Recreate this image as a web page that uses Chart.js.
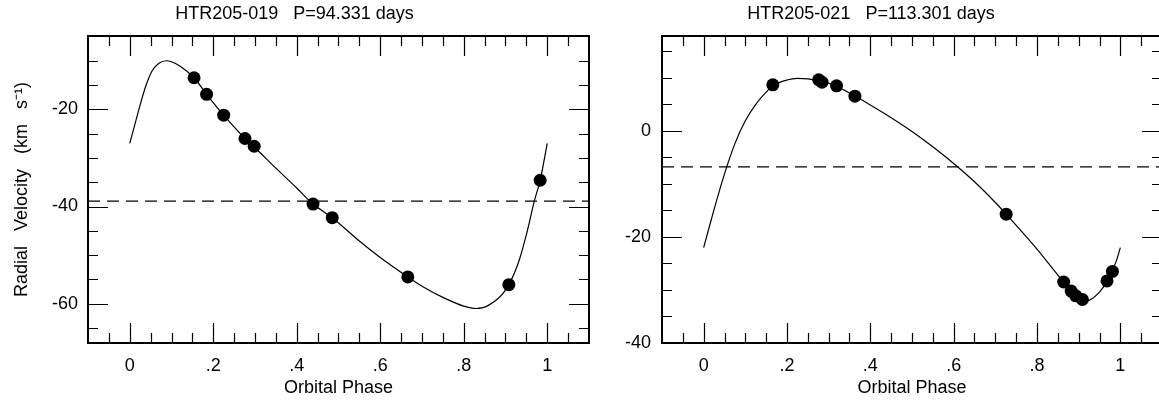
<!DOCTYPE html>
<html>
<head>
<meta charset="utf-8">
<script src="https://cdn.jsdelivr.net/npm/chart.js@4.4.1/dist/chart.umd.min.js"></script>
<style>
  html, body { margin: 0; padding: 0; background: #fff; overflow: hidden; }
  body { width: 1159px; height: 403px; position: relative; }
  .panel { position: absolute; top: 0; height: 403px; }
  #leftPanel { left: 0; width: 677px; }
  #rightPanel { left: 580px; width: 664px; }
</style>
</head>
<body>
<div class="panel" id="leftPanel"><canvas id="leftChart"></canvas></div>
<div class="panel" id="rightPanel"><canvas id="rightChart"></canvas></div>
<script>
// shared phase axis
const xMajorTicks = [0, 0.2, 0.4, 0.6, 0.8, 1];
const xTickLabels = ['0', '.2', '.4', '.6', '.8', '1'];

// HTR205-019
const leftTitle = 'HTR205-019   P=94.331 days';
const leftPhase = [0.154, 0.184, 0.225, 0.276, 0.298, 0.439, 0.485, 0.666, 0.908, 0.983];
const leftVel = [-13.5, -16.9, -21.2, -26.0, -27.6, -39.5, -42.3, -54.5, -56.1, -34.6];
const leftCurvePhase = [0, 0.011, 0.022, 0.038, 0.054, 0.07, 0.088, 0.1, 0.12, 0.154, 0.184, 0.225, 0.276, 0.3, 0.35, 0.4, 0.439, 0.485, 0.55, 0.6, 0.666, 0.7, 0.75, 0.8, 0.83, 0.86, 0.9, 0.93, 0.95, 0.969, 0.983, 1];
const leftCurveVel = [-27.0, -23.5, -20.0, -15.3, -12.0, -10.5, -10.0, -10.2, -11.1, -13.5, -16.9, -21.2, -26.0, -27.9, -32.1, -36.2, -39.5, -42.3, -47.1, -50.5, -54.5, -56.4, -58.7, -60.5, -61.0, -60.3, -57.2, -51.8, -45.8, -38.9, -34.6, -27.0];
const leftGamma = -38.9;
const leftYTicks = [-20, -40, -60];
const leftYLabels = ['-20', '-40', '-60'];

// HTR205-021
const rightTitle = 'HTR205-021   P=113.301 days';
const rightPhase = [0.166, 0.276, 0.284, 0.319, 0.363, 0.726, 0.864, 0.882, 0.893, 0.909, 0.968, 0.981];
const rightVel = [8.7, 9.65, 9.2, 8.5, 6.55, -15.7, -28.5, -30.2, -31.1, -31.8, -28.3, -26.5];
const rightCurvePhase = [0, 0.025, 0.05, 0.075, 0.1, 0.125, 0.15, 0.166, 0.2, 0.225, 0.25, 0.3, 0.363, 0.4, 0.45, 0.5, 0.55, 0.61, 0.65, 0.7, 0.726, 0.75, 0.8, 0.864, 0.9, 0.92, 0.95, 0.97, 0.99, 1];
const rightCurveVel = [-22.0, -14.8, -8.1, -2.4, 1.9, 5.0, 7.3, 8.5, 9.6, 9.9, 9.8, 9.0, 6.6, 4.9, 2.5, -0.1, -3.0, -6.8, -9.6, -13.5, -15.7, -17.8, -22.3, -28.5, -31.4, -32.0, -30.4, -28.1, -24.6, -22.0];
const rightGamma = -6.8;
const rightYTicks = [0, -20, -40];
const rightYLabels = ['0', '-20', '-40'];

Chart.defaults.font.family = "'Liberation Sans', Arial, Helvetica, sans-serif";
Chart.defaults.font.size = 18;
Chart.defaults.color = '#000';

function stepValues(min, max, step) {
    const out = [];
    for (let v = Math.ceil(min / step) * step; v < max; v += step) {
        const r = Math.round(v * 1000) / 1000;
        if (r > min + step * 0.1 && r < max - step * 0.1) out.push(r);
    }
    return out;
}

// ticks on all four sides pointing inward, plus the frame
const inwardTicks = {
    id: 'inwardTicks',
    afterDatasetsDraw(chart, args, o) {
        const { ctx, chartArea: a, scales: { x, y } } = chart;
        ctx.save();
        ctx.strokeStyle = '#000';
        ctx.lineWidth = 1.2;
        ctx.beginPath();
        stepValues(x.min, x.max, o.xStep).forEach(v => {
            const len = o.xMajor.includes(v) ? 20 : 10;
            const px = Math.round(x.getPixelForValue(v)) + 0.5;
            ctx.moveTo(px, a.bottom); ctx.lineTo(px, a.bottom - len);
            ctx.moveTo(px, a.top); ctx.lineTo(px, a.top + len);
        });
        stepValues(y.min, y.max, o.yStep).forEach(v => {
            const len = o.yMajor.includes(v) ? 20 : 10;
            const py = Math.round(y.getPixelForValue(v)) + 0.5;
            ctx.moveTo(a.left, py); ctx.lineTo(a.left + len, py);
            ctx.moveTo(a.right, py); ctx.lineTo(a.right - len, py);
        });
        ctx.stroke();
        ctx.lineWidth = 2;
        ctx.strokeRect(a.left, a.top, a.right - a.left, a.bottom - a.top);
        ctx.restore();
    }
};

function makePanel(canvasId, cfg) {
    const pts = (xs, ys) => xs.map((p, i) => ({ x: p, y: ys[i] }));
    return new Chart(document.getElementById(canvasId), {
        type: 'scatter',
        data: {
            datasets: [
                {
                    data: pts(cfg.phase, cfg.vel),
                    backgroundColor: '#000',
                    borderColor: '#000',
                    pointRadius: 6.5,
                    pointBorderWidth: 0
                },
                {
                    data: pts(cfg.curvePhase, cfg.curveVel),
                    showLine: true,
                    borderColor: '#000',
                    borderWidth: 1.2,
                    pointRadius: 0,
                    cubicInterpolationMode: 'monotone'
                },
                {
                    data: [{ x: -0.1, y: cfg.gamma }, { x: 1.1, y: cfg.gamma }],
                    showLine: true,
                    borderColor: '#000',
                    borderWidth: 1.2,
                    borderDash: [12, 7],
                    pointRadius: 0
                }
            ]
        },
        options: {
            responsive: true,
            maintainAspectRatio: false,
            animation: false,
            layout: { padding: { left: 0, right: cfg.yWidth, top: 0, bottom: 0 } },
            plugins: {
                legend: { display: false },
                tooltip: { enabled: false },
                title: {
                    display: true,
                    text: cfg.title,
                    color: '#000',
                    font: { size: 18, weight: 'normal' },
                    padding: { top: 3.2, bottom: 11.2 }
                },
                inwardTicks: { xStep: 0.05, yStep: 5, xMajor: xMajorTicks, yMajor: cfg.yTicks }
            },
            scales: {
                x: {
                    type: 'linear',
                    min: -0.1,
                    max: 1.1,
                    grid: { display: false, drawTicks: false },
                    border: { display: false },
                    afterBuildTicks: s => { s.ticks = xMajorTicks.map(v => ({ value: v })); },
                    afterFit: s => { s.height = 60; },
                    ticks: { padding: 12, maxRotation: 0, autoSkip: false, callback: (v, i) => xTickLabels[i] },
                    title: { display: true, text: 'Orbital Phase', padding: { top: 4, bottom: 4 } }
                },
                y: {
                    min: cfg.yMin,
                    max: cfg.yMax,
                    grid: { display: false, drawTicks: false },
                    border: { display: false },
                    afterBuildTicks: s => { s.ticks = cfg.yTicks.map(v => ({ value: v })); },
                    afterFit: s => { s.width = cfg.yWidth; },
                    ticks: { padding: cfg.yPad, autoSkip: false, callback: (v, i) => cfg.yLabels[i] },
                    title: {
                        display: !!cfg.yTitle,
                        text: cfg.yTitle || '',
                        padding: { top: 11, bottom: 11 }
                    }
                }
            }
        },
        plugins: [inwardTicks]
    });
}

makePanel('leftChart', {
    title: leftTitle, phase: leftPhase, vel: leftVel,
    curvePhase: leftCurvePhase, curveVel: leftCurveVel, gamma: leftGamma,
    yMin: -68.1, yMax: -4.9, yTicks: leftYTicks, yLabels: leftYLabels,
    yWidth: 88, yPad: 10, yTitle: 'Radial   Velocity   (km   s\u207B\u00B9)'
});

makePanel('rightChart', {
    title: rightTitle, phase: rightPhase, vel: rightVel,
    curvePhase: rightCurvePhase, curveVel: rightCurveVel, gamma: rightGamma,
    yMin: -40, yMax: 17.9, yTicks: rightYTicks, yLabels: rightYLabels,
    yWidth: 82, yPad: 11, yTitle: null
});
</script>
</body>
</html>
